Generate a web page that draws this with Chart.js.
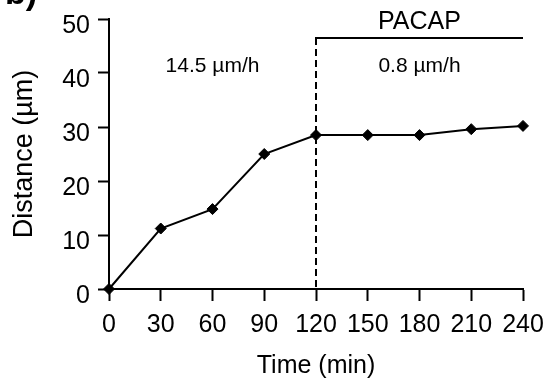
<!DOCTYPE html>
<html>
<head>
<meta charset="utf-8">
<script src="https://cdn.jsdelivr.net/npm/chart.js@4.4.1/dist/chart.umd.min.js"></script>
<style>
    html, body { margin: 0; padding: 0; background: #fff; }
    canvas { display: block; }
</style>
</head>
<body>
<canvas id="chart" width="548" height="385"></canvas>
<script>
// Data
const times = [0, 30, 60, 90, 120, 150, 180, 210, 240];          // min
const distances = [0, 11.2, 14.8, 25.0, 28.5, 28.5, 28.5, 29.6, 30.2]; // µm

// Treatment window and annotation labels (data units)
const pacapWindow = [120, 240];
const bracketLevel = 46.5;
const rateLabels = ['14.5 µm/h', '0.8 µm/h'];
const rateLabelX = [60, 180];
const rateLabelY = 41.2;
const pacapLabel = 'PACAP';
const pacapLabelY = 49.4;

const FONT = '"Liberation Sans", Arial, Helvetica, sans-serif';

// Draws the dashed PACAP marker, bracket and rate labels
const annotations = {
    id: 'annotations',
    beforeDatasetsDraw(chart) {
        const { ctx, scales: { x, y } } = chart;
        const x0 = x.getPixelForValue(pacapWindow[0]);
        const x1 = x.getPixelForValue(pacapWindow[1]);
        const yb = y.getPixelForValue(bracketLevel);

        ctx.save();
        ctx.strokeStyle = '#000';
        ctx.lineWidth = 2;

        // dashed vertical line at PACAP onset
        ctx.setLineDash([7, 4]);
        ctx.beginPath();
        ctx.moveTo(x0, yb);
        ctx.lineTo(x0, y.getPixelForValue(0));
        ctx.stroke();

        // bracket
        ctx.setLineDash([]);
        ctx.beginPath();
        ctx.moveTo(x0 - 1, yb);
        ctx.lineTo(x1, yb);
        ctx.stroke();

        ctx.fillStyle = '#000';
        ctx.textAlign = 'center';
        ctx.textBaseline = 'middle';
        ctx.font = '25px ' + FONT;
        ctx.fillText(pacapLabel, x.getPixelForValue(180), y.getPixelForValue(pacapLabelY));

        ctx.font = '21px ' + FONT;
        rateLabels.forEach((label, i) => {
            ctx.fillText(label, x.getPixelForValue(rateLabelX[i]), y.getPixelForValue(rateLabelY));
        });

        // panel letter, cropped at the top edge
        ctx.textAlign = 'left';
        ctx.textBaseline = 'alphabetic';
        ctx.font = 'bold 34px ' + FONT;
        ctx.fillText('b)', 5, 4);
        ctx.restore();
    }
};

const ctx = document.getElementById('chart').getContext('2d');

new Chart(ctx, {
    type: 'line',
    data: {
        datasets: [{
            label: 'Distance',
            data: times.map((t, i) => ({ x: t, y: distances[i] })),
            borderColor: '#000',
            backgroundColor: '#000',
            borderWidth: 2,
            pointStyle: 'rectRot',
            pointRadius: 5.5,
            pointBorderWidth: 1,
            tension: 0,
            clip: false
        }]
    },
    options: {
        responsive: false,
        animation: false,
        layout: {
            padding: { top: 19, right: 25, left: 0, bottom: 0 }
        },
        plugins: {
            legend: { display: false },
            tooltip: { enabled: false }
        },
        scales: {
            x: {
                type: 'linear',
                min: 0,
                max: 240,
                ticks: {
                    stepSize: 30,
                    color: '#000',
                    padding: 9,
                    font: { family: FONT, size: 25 }
                },
                grid: {
                    drawOnChartArea: false,
                    tickLength: 12,
                    tickWidth: 2,
                    tickColor: '#000'
                },
                border: { color: '#000', width: 2 },
                title: {
                    display: true,
                    text: 'Time (min)',
                    color: '#000',
                    font: { family: FONT, size: 25 },
                    padding: { top: 0, bottom: 4 }
                },
                afterFit(scale) {
                    scale.height = 96;
                    scale.paddingLeft = 0;
                    scale.paddingRight = 0;
                }
            },
            y: {
                min: 0,
                max: 50,
                ticks: {
                    stepSize: 10,
                    color: '#000',
                    padding: 8,
                    labelOffset: 7,
                    font: { family: FONT, size: 25 }
                },
                grid: {
                    drawOnChartArea: false,
                    tickLength: 11,
                    tickWidth: 2,
                    tickColor: '#000'
                },
                border: { color: '#000', width: 2 },
                title: {
                    display: true,
                    text: 'Distance (µm)',
                    color: '#000',
                    font: { family: FONT, size: 27 },
                    padding: { top: 8, bottom: 0 }
                },
                afterFit(scale) {
                    scale.width = 109;
                    scale.paddingTop = 0;
                    scale.paddingBottom = 0;
                }
            }
        }
    },
    plugins: [annotations]
});
</script>
</body>
</html>
